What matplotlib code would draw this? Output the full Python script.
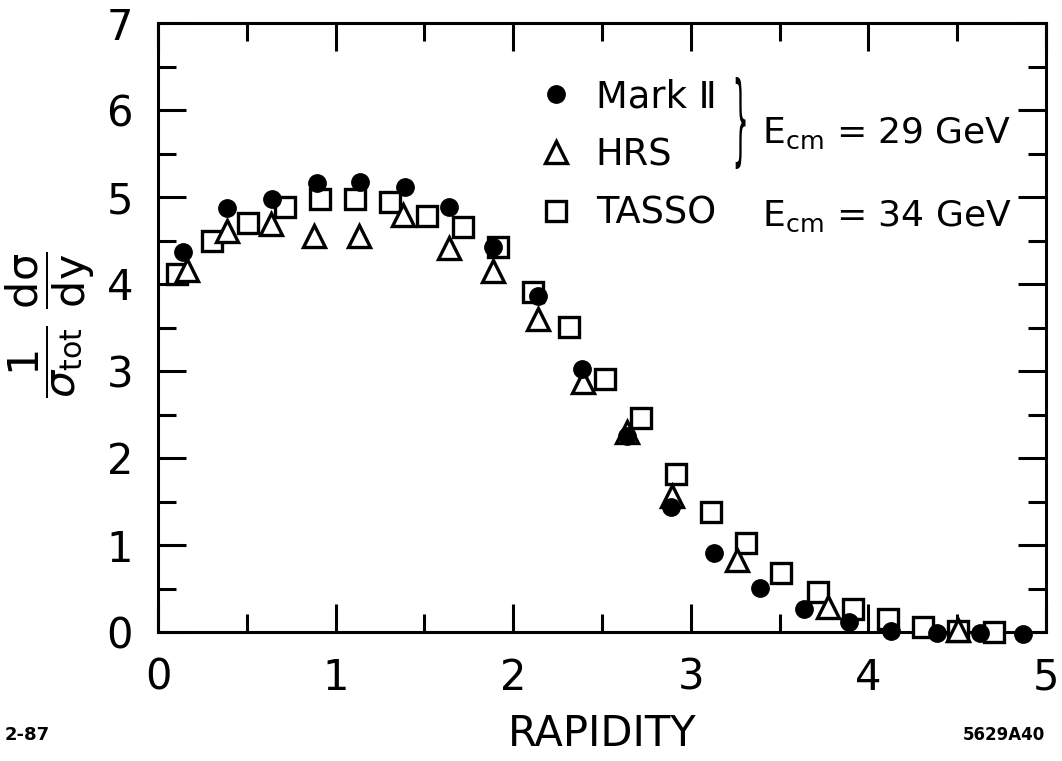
import matplotlib
matplotlib.use("Agg")
import matplotlib.pyplot as plt
import numpy as np
from matplotlib.ticker import MultipleLocator
from matplotlib.textpath import TextPath
from matplotlib.patches import PathPatch
from matplotlib.font_manager import FontProperties
from matplotlib.transforms import Affine2D

# Mark II (29 GeV), filled circles
mark2_y_rap = [0.138, 0.389, 0.642, 0.895, 1.137, 1.391, 1.641, 1.886, 2.137, 2.390,
               2.638, 2.889, 3.131, 3.387, 3.637, 3.888, 4.127, 4.386, 4.631, 4.870]
mark2_dsdy = [4.37, 4.87, 4.98, 5.16, 5.17, 5.12, 4.89, 4.42, 3.86, 3.02,
              2.25, 1.44, 0.91, 0.51, 0.27, 0.12, 0.01, -0.01, -0.01, -0.02]

# HRS (29 GeV), open triangles
hrs_y_rap = [0.163, 0.389, 0.636, 0.878, 1.132, 1.380, 1.639, 1.886, 2.140, 2.393,
             2.641, 2.894, 3.260, 3.773, 4.505]
hrs_dsdy = [4.16, 4.61, 4.69, 4.55, 4.55, 4.79, 4.41, 4.15, 3.60, 2.87,
            2.30, 1.56, 0.83, 0.29, 0.02]

# TASSO (34 GeV), open squares
tasso_y_rap = [0.107, 0.304, 0.507, 0.715, 0.912, 1.109, 1.306, 1.515, 1.717, 1.914,
               2.111, 2.314, 2.517, 2.720, 2.917, 3.114, 3.311, 3.508, 3.716, 3.913,
               4.110, 4.307, 4.505, 4.707]
tasso_dsdy = [4.11, 4.50, 4.70, 4.89, 4.98, 4.98, 4.94, 4.78, 4.66, 4.42,
              3.91, 3.51, 2.91, 2.46, 1.82, 1.38, 1.02, 0.68, 0.46, 0.27,
              0.15, 0.06, 0.01, 0.00]

W, H = 1062, 761
fig = plt.figure(figsize=(W / 100, H / 100), dpi=100)
ax = fig.add_axes([158 / W, 1 - 632 / H, (1046 - 158) / W, (632 - 23) / H])

ax.plot(tasso_y_rap, tasso_dsdy, 's', ms=14, mfc='white', mec='black', mew=2.4,
        label='TASSO', zorder=3, clip_on=False)
ax.plot(hrs_y_rap, hrs_dsdy, '^', ms=16, mfc='white', mec='black', mew=2.4,
        label='HRS', zorder=4, clip_on=False)
ax.plot(mark2_y_rap, mark2_dsdy, 'o', ms=12.5, color='black', label='Mark \u2161',
        zorder=5, clip_on=False)

ax.set_xlim(0, 5)
ax.set_ylim(0, 7)
ax.xaxis.set_major_locator(MultipleLocator(1))
ax.xaxis.set_minor_locator(MultipleLocator(0.5))
ax.yaxis.set_major_locator(MultipleLocator(1))
ax.yaxis.set_minor_locator(MultipleLocator(0.5))

for s in ax.spines.values():
    s.set_linewidth(2.2)
ax.tick_params(which='both', direction='in', top=True, right=True, width=2.2)
ax.tick_params(which='major', length=20)
ax.tick_params(which='minor', length=13)
ax.tick_params(axis='y', which='major', labelsize=30, pad=18)
ax.tick_params(axis='x', which='major', labelsize=30, pad=18)

ax.set_xlabel('RAPIDITY', fontsize=30, va='top')
ax.xaxis.set_label_coords(0.5, (632 - 713) / 609)

fig.text(50 / W, 1 - 325 / H,
         r'$\dfrac{1}{\sigma_{\rm tot}}\ \dfrac{\rm d\sigma}{\rm dy}$',
         rotation=90, fontsize=31, ha='center', va='center')

# legend with the brace and energies
h, l = ax.get_legend_handles_labels()
ax.legend(h[::-1], l[::-1], loc='upper left', bbox_to_anchor=(538 / W, 1 - 78 / H),
          bbox_transform=fig.transFigure, frameon=False, fontsize=26.5,
          handlelength=1.0, handletextpad=0.57, labelspacing=0.58,
          borderpad=0, borderaxespad=0)

# thin tall brace: squeeze the glyph outline
tp = TextPath((0, 0), '}', size=100, prop=FontProperties(family='DejaVu Sans'))
vx = tp.vertices
bw, bh = vx[:, 0].max() - vx[:, 0].min(), vx[:, 1].max() - vx[:, 1].min()
cx, cy = (vx[:, 0].max() + vx[:, 0].min()) / 2, (vx[:, 1].max() + vx[:, 1].min()) / 2
tr = (Affine2D().translate(-cx, -cy).scale(13 / bw, 92 / bh)
      .translate(739, H - 123))
fig.patches.append(PathPatch(tr.transform_path(tp), color='black', lw=0,
                             transform=None, figure=fig))

fig.text(762 / W, 1 - 143 / H, r'E$_{\rm cm}$ = 29 GeV', fontsize=26, va='baseline')
fig.text(762 / W, 1 - 226 / H, r'E$_{\rm cm}$ = 34 GeV', fontsize=26, va='baseline')

fig.text(5 / W, 1 - 735 / H, '2-87', fontsize=13, fontweight='bold', va='center')
fig.text(1045 / W, 1 - 735 / H, '5629A40', fontsize=12, fontweight='bold',
         va='center', ha='right')

fig.savefig('out.png', dpi=100)
